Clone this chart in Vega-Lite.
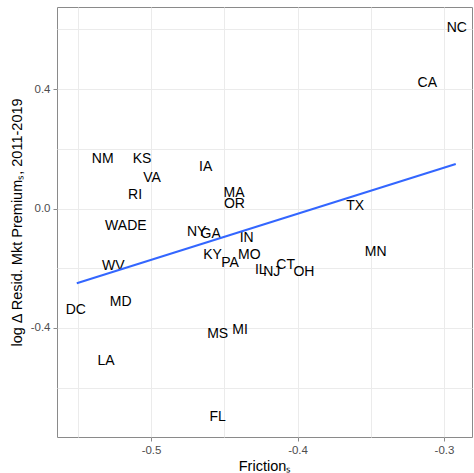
{
  "$schema": "https://vega.github.io/schema/vega-lite/v6.json",
  "autosize": "none",
  "width": 415,
  "height": 430,
  "padding": {"left": 57, "top": 7, "right": 2, "bottom": 36},
  "background": "white",
  "config": {
    "view": {"stroke": "#8a8a8a", "strokeWidth": 1},
    "font": "Liberation Sans",
    "axis": {
      "domain": false,
      "gridColor": "#ebebeb",
      "gridWidth": 1,
      "tickColor": "#8a8a8a",
      "tickSize": 4,
      "labelColor": "#4d4d4d",
      "labelFontSize": 11.5,
      "labelFont": "Liberation Sans",
      "titleFont": "Liberation Sans",
      "titleFontSize": 14.5,
      "titleFontWeight": "normal",
      "titleColor": "#000000"
    }
  },
  "datasets": {
    "states": [
      {"state": "NC", "friction": -0.2913, "premium": 0.604},
      {"state": "CA", "friction": -0.3114, "premium": 0.419},
      {"state": "TX", "friction": -0.3607, "premium": 0.010},
      {"state": "MN", "friction": -0.3466, "premium": -0.147},
      {"state": "NM", "friction": -0.5330, "premium": 0.165},
      {"state": "KS", "friction": -0.5061, "premium": 0.165},
      {"state": "VA", "friction": -0.4993, "premium": 0.102},
      {"state": "RI", "friction": -0.5109, "premium": 0.046},
      {"state": "WA", "friction": -0.5239, "premium": -0.060},
      {"state": "DE", "friction": -0.5096, "premium": -0.060},
      {"state": "WV", "friction": -0.5258, "premium": -0.194},
      {"state": "MD", "friction": -0.5207, "premium": -0.314},
      {"state": "DC", "friction": -0.5514, "premium": -0.339},
      {"state": "LA", "friction": -0.5307, "premium": -0.509},
      {"state": "IA", "friction": -0.4627, "premium": 0.140},
      {"state": "MA", "friction": -0.4433, "premium": 0.051},
      {"state": "OR", "friction": -0.4431, "premium": 0.016},
      {"state": "NY", "friction": -0.4689, "premium": -0.080},
      {"state": "GA", "friction": -0.4593, "premium": -0.085},
      {"state": "IN", "friction": -0.4347, "premium": -0.099},
      {"state": "KY", "friction": -0.4580, "premium": -0.155},
      {"state": "PA", "friction": -0.4461, "premium": -0.181},
      {"state": "MO", "friction": -0.4329, "premium": -0.155},
      {"state": "IL", "friction": -0.4251, "premium": -0.205},
      {"state": "NJ", "friction": -0.4176, "premium": -0.214},
      {"state": "CT", "friction": -0.4081, "premium": -0.188},
      {"state": "OH", "friction": -0.3956, "premium": -0.211},
      {"state": "MS", "friction": -0.4545, "premium": -0.419},
      {"state": "MI", "friction": -0.4392, "premium": -0.408},
      {"state": "FL", "friction": -0.4545, "premium": -0.699}
    ],
    "fit": [
      {"friction": -0.5507, "premium": -0.250},
      {"friction": -0.2920, "premium": 0.149}
    ]
  },
  "encoding": {
    "x": {
      "field": "friction",
      "type": "quantitative",
      "scale": {"domain": [-0.5642, -0.2809], "nice": false, "zero": false},
      "axis": {
        "title": "Frictionₛ",
        "values": [-0.55, -0.5, -0.45, -0.4, -0.35, -0.3],
        "labelExpr": "(round(datum.value*100) % 10 == 0) ? replace(replace(format(datum.value, '.1f'), '\u2212', '-'), '\u2212', '-') : ''",
        "tickOpacity": {"condition": {"test": "round(datum.value*100) % 10 != 0", "value": 0}, "value": 1},
        "labelPadding": 3,
        "titlePadding": 4
      }
    },
    "y": {
      "field": "premium",
      "type": "quantitative",
      "scale": {"domain": [-0.7649, 0.6746], "nice": false, "zero": false},
      "axis": {
        "title": "log Δ Resid. Mkt Premiumₛ, 2011-2019",
        "values": [-0.6, -0.4, -0.2, 0, 0.2, 0.4, 0.6],
        "labelExpr": "(round(datum.value*10) % 4 == 0) ? replace(format(datum.value, '.1f'), '\u2212', '-') : ''",
        "tickOpacity": {"condition": {"test": "round(datum.value*10) % 4 != 0", "value": 0}, "value": 1},
        "labelPadding": 3,
        "titlePadding": 6
      }
    }
  },
  "layer": [
    {
      "data": {"name": "states"},
      "mark": {"type": "text", "fontSize": 14, "font": "Liberation Sans", "color": "#000000", "align": "center", "baseline": "middle"},
      "encoding": {"text": {"field": "state"}}
    },
    {
      "data": {"name": "fit"},
      "mark": {"type": "line", "color": "#3366FF", "strokeWidth": 2}
    }
  ]
}
